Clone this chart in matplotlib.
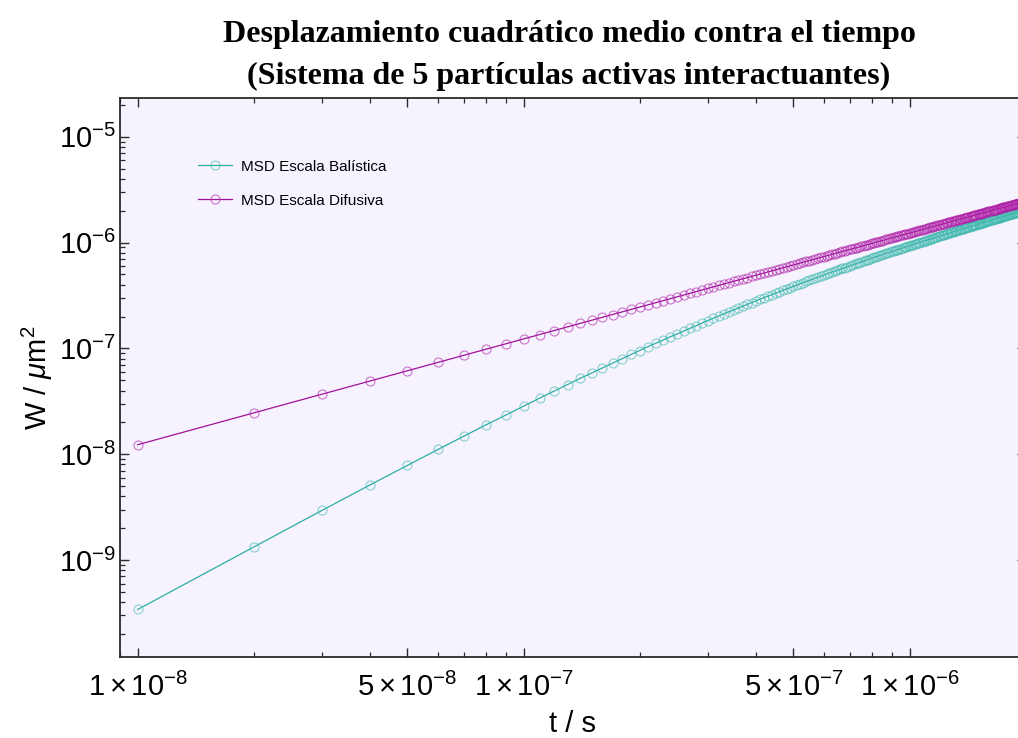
import numpy as np
import matplotlib
matplotlib.use("Agg")
import matplotlib.pyplot as plt
from matplotlib.ticker import FixedLocator, FixedFormatter, LogLocator, NullFormatter

plt.rcParams['font.family'] = ['Liberation Sans', 'DejaVu Sans']
plt.rcParams['mathtext.fontset'] = 'custom'
plt.rcParams['mathtext.rm'] = 'Liberation Sans'
plt.rcParams['mathtext.it'] = 'Liberation Sans:italic'
plt.rcParams['mathtext.bf'] = 'Liberation Sans:bold'

# tiempo: pasos de 1e-8 s
steps = np.arange(1, 201)
t = steps * 1e-8

# MSD en unidades de 1e-9 um^2
msd_balistica = [
    0.341, 1.33, 2.94, 5.13, 7.85, 11.1, 14.8, 19.0, 23.5, 28.5,
    33.9, 39.6, 45.6, 52.0, 58.6, 65.5, 72.6, 80.0, 87.7, 95.5,
    104, 112, 120, 129, 137, 146, 155, 164, 174, 183,
    193, 202, 212, 222, 231, 241, 251, 261, 271, 282,
    292, 302, 312, 323, 333, 344, 354, 365, 375, 386,
    397, 407, 418, 429, 440, 450, 461, 472, 483, 494,
    505, 515, 526, 537, 548, 559, 570, 581, 592, 603,
    614, 625, 636, 647, 658, 669, 680, 691, 702, 713,
    724, 735, 746, 757, 769, 780, 791, 802, 813, 824,
    835, 846, 857, 868, 879, 890, 902, 913, 924, 935,
    946, 957, 968, 979, 990, 1001, 1013, 1024, 1035, 1046,
    1057, 1068, 1079, 1090, 1102, 1113, 1124, 1135, 1146, 1157,
    1168, 1179, 1190, 1202, 1213, 1224, 1235, 1246, 1257, 1268,
    1279, 1291, 1302, 1313, 1324, 1335, 1346, 1357, 1368, 1380,
    1391, 1402, 1413, 1424, 1435, 1446, 1457, 1469, 1480, 1491,
    1502, 1513, 1524, 1535, 1546, 1558, 1569, 1580, 1591, 1602,
    1613, 1624, 1635, 1647, 1658, 1669, 1680, 1691, 1702, 1713,
    1724, 1736, 1747, 1758, 1769, 1780, 1791, 1802, 1813, 1825,
    1836, 1847, 1858, 1869, 1880, 1891, 1902, 1914, 1925, 1936,
    1947, 1958, 1969, 1980, 1991, 2003, 2014, 2025, 2036, 2047,
]

msd_difusiva = [
    12.3, 24.6, 36.9, 49.2, 61.5, 73.8, 86.1, 98.4, 110.7, 123.0,
    135.3, 147.6, 159.9, 172.2, 184.5, 196.8, 209.1, 221.4, 233.7, 246.0,
    258.3, 270.6, 282.9, 295.2, 307.5, 319.8, 332.1, 344.4, 356.7, 369.0,
    381.3, 393.6, 405.9, 418.2, 430.5, 442.8, 455.1, 467.4, 479.7, 492.0,
    504.3, 516.6, 528.9, 541.2, 553.5, 565.8, 578.1, 590.4, 602.7, 615.0,
    627.3, 639.6, 651.9, 664.2, 676.5, 688.8, 701.1, 713.4, 725.7, 738.0,
    750.3, 762.6, 774.9, 787.2, 799.5, 811.8, 824.1, 836.4, 848.7, 861.0,
    873.3, 885.6, 897.9, 910.2, 922.5, 934.8, 947.1, 959.4, 971.7, 984.0,
    996.3, 1008.6, 1020.9, 1033.2, 1045.5, 1057.8, 1070.1, 1082.4, 1094.7, 1107.0,
    1119.3, 1131.6, 1143.9, 1156.2, 1168.5, 1180.8, 1193.1, 1205.4, 1217.7, 1230.0,
    1242.3, 1254.6, 1266.9, 1279.2, 1291.5, 1303.8, 1316.1, 1328.4, 1340.7, 1353.0,
    1365.3, 1377.6, 1389.9, 1402.2, 1414.5, 1426.8, 1439.1, 1451.4, 1463.7, 1476.0,
    1488.3, 1500.6, 1512.9, 1525.2, 1537.5, 1549.8, 1562.1, 1574.4, 1586.7, 1599.0,
    1611.3, 1623.6, 1635.9, 1648.2, 1660.5, 1672.8, 1685.1, 1697.4, 1709.7, 1722.0,
    1734.3, 1746.6, 1758.9, 1771.2, 1783.5, 1795.8, 1808.1, 1820.4, 1832.7, 1845.0,
    1857.3, 1869.6, 1881.9, 1894.2, 1906.5, 1918.8, 1931.1, 1943.4, 1955.7, 1968.0,
    1980.3, 1992.6, 2004.9, 2017.2, 2029.5, 2041.8, 2054.1, 2066.4, 2078.7, 2091.0,
    2103.3, 2115.6, 2127.9, 2140.2, 2152.5, 2164.8, 2177.1, 2189.4, 2201.7, 2214.0,
    2226.3, 2238.6, 2250.9, 2263.2, 2275.5, 2287.8, 2300.1, 2312.4, 2324.7, 2337.0,
    2349.3, 2361.6, 2373.9, 2386.2, 2398.5, 2410.8, 2423.1, 2435.4, 2447.7, 2460.0,
]

xtick_vals = [1e-8, 5e-8, 1e-7, 5e-7, 1e-6]
xtick_labels = [r'$1\times10^{-8}$', r'$5\times10^{-8}$', r'$1\times10^{-7}$',
                r'$5\times10^{-7}$', r'$1\times10^{-6}$']

teal = '#2EADA3'
purple = '#A0129A'

fig = plt.figure(figsize=(10.18, 7.38), dpi=100)
ax = fig.add_axes([120 / 1018, 80.7 / 738, 905.8 / 1018, 559 / 738])
ax.set_facecolor('#F6F3FE')

ax.plot(t, np.array(msd_balistica) * 1e-9, color=teal, lw=0.9,
        marker='o', ms=6.5, mfc='none', mec=(0.24, 0.72, 0.68, 0.6), mew=0.8,
        label='MSD Escala Balística')
ax.plot(t, np.array(msd_difusiva) * 1e-9, color=purple, lw=0.9,
        marker='o', ms=6.5, mfc='none', mec=(0.68, 0.12, 0.65, 0.6), mew=0.8,
        label='MSD Escala Difusiva')

ax.set_xscale('log')
ax.set_yscale('log')
ax.set_xlim(9e-9, 2e-6)
ax.set_ylim(1.205e-10, 2.31e-5)

ax.xaxis.set_major_locator(FixedLocator(xtick_vals))
ax.xaxis.set_major_formatter(FixedFormatter(xtick_labels))
minors = [m * 10.0 ** e for e in (-9, -8, -7, -6) for m in range(1, 10)]
minors = [v for v in minors if v not in xtick_vals]
ax.xaxis.set_minor_locator(FixedLocator(minors))
ax.xaxis.set_minor_formatter(NullFormatter())
ax.yaxis.set_major_locator(LogLocator(base=10, numticks=20))
ax.yaxis.set_minor_locator(LogLocator(base=10, subs=np.arange(2, 10), numticks=20))
ax.yaxis.set_minor_formatter(NullFormatter())

for s in ax.spines.values():
    s.set_color('#2b2b2b')
    s.set_linewidth(1.3)
ax.tick_params(which='both', direction='in', top=True, right=True, color='#2b2b2b')
ax.tick_params(which='major', length=6.5, width=1.0, labelsize=21)
ax.tick_params(which='minor', length=3.6, width=0.9)
ax.tick_params(axis='x', which='major', pad=11)
ax.tick_params(axis='y', which='major', pad=3)

ax.set_xlabel('t / s', fontsize=21, labelpad=6)
ax.set_ylabel(r'W / $\mu$m$^2$', fontsize=21, labelpad=3)
ax.set_title('Desplazamiento cuadrático medio contra el tiempo\n'
             '(Sistema de 5 partículas activas interactuantes)',
             fontsize=23, fontweight='bold', family='Liberation Serif',
             linespacing=1.6, pad=10, x=(569 - 120) / 905.8)

ax.legend(loc='upper left', bbox_to_anchor=(0.086, 0.89), frameon=False,
          fontsize=11, numpoints=1, handlelength=2.2, handletextpad=0.6,
          labelspacing=1.3, borderpad=0, borderaxespad=0)

fig.savefig('out.png', dpi=100)
